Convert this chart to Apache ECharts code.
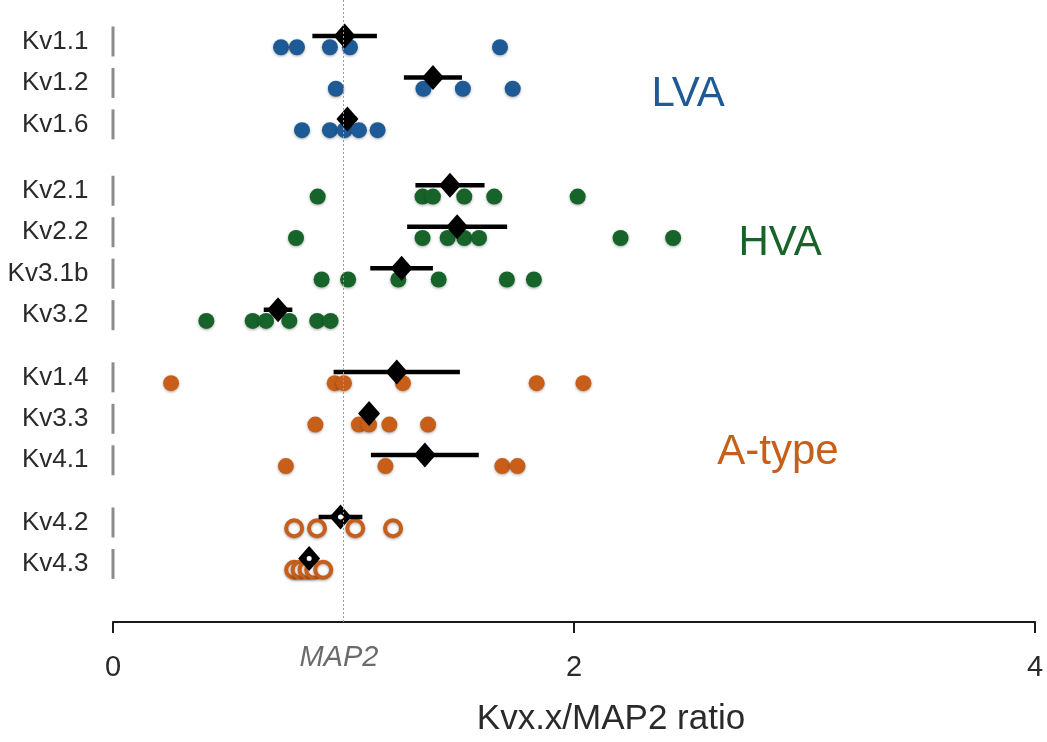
<!DOCTYPE html>
<html>
<head>
<meta charset="utf-8">
<script src="https://cdn.jsdelivr.net/npm/echarts@6/dist/echarts.min.js"></script>
<style>
  html, body { margin: 0; padding: 0; background: #fff; }
  #chart { width: 1047px; height: 742px; }
</style>
</head>
<body>
<div id="chart"></div>
<script>
// Kv channel subunits, top to bottom
const genes = ['Kv1.1', 'Kv1.2', 'Kv1.6', 'Kv2.1', 'Kv2.2', 'Kv3.1b', 'Kv3.2',
               'Kv1.4', 'Kv3.3', 'Kv4.1', 'Kv4.2', 'Kv4.3'];
const families = ['LVA', 'LVA', 'LVA', 'HVA', 'HVA', 'HVA', 'HVA',
                  'A-type', 'A-type', 'A-type', 'A-type', 'A-type'];
const familyNames = ['LVA', 'HVA', 'A-type'];

// individual Kvx.x/MAP2 ratios per subunit
const kv11 = [0.729, 0.798, 0.941, 1.028, 1.679];
const kv12 = [0.967, 1.347, 1.518, 1.734];
const kv16 = [0.820, 0.941, 1.005, 1.067, 1.148];
const kv21 = [0.888, 1.343, 1.388, 1.524, 1.654, 2.016];
const kv22 = [0.794, 1.343, 1.452, 1.524, 1.588, 2.202, 2.430];
const kv31b = [0.905, 1.020, 1.238, 1.413, 1.709, 1.826];
const kv32 = [0.405, 0.606, 0.664, 0.765, 0.886, 0.944];
const kv14 = [0.252, 0.962, 1.002, 1.258, 1.838, 2.041];
const kv33 = [0.878, 1.067, 1.111, 1.199, 1.367];
const kv41 = [0.750, 1.182, 1.689, 1.755];
const kv42 = [0.786, 0.885, 1.051, 1.215];
const kv43 = [0.786, 0.814, 0.844, 0.873, 0.912];
const ratios = [kv11, kv12, kv16, kv21, kv22, kv31b, kv32, kv14, kv33, kv41, kv42, kv43];

// mean ± SEM per subunit
const means = [1.005, 1.388, 1.017, 1.462, 1.493, 1.252, 0.716, 1.231, 1.111, 1.353, 0.987, 0.851];
const sems  = [0.140, 0.126, 0.040, 0.150, 0.217, 0.136, 0.062, 0.274, 0.040, 0.234, 0.095, 0.030];

// x axis
const xTicks = [0, 2, 4];
const xTitle = 'Kvx.x/MAP2 ratio';
const refValue = 1;
const refLabel = 'MAP2';

// ---- layout ----
const rowPos = [0, 1, 2, 3.6, 4.6, 5.6, 6.6, 8.1, 9.1, 10.1, 11.6, 12.6];
const dotShift = 0.14;
const meanShift = -0.13;
const hollowGenes = ['Kv4.2', 'Kv4.3'];
const familyColor = { 'LVA': '#1d5a96', 'HVA': '#17642a', 'A-type': '#c75f1a' };
const familyLabelAt = { 'LVA': [2.495, 1.28], 'HVA': [2.894, 4.88], 'A-type': [2.885, 9.92] };
const FONT = 'Liberation Sans, Arial, sans-serif';

const chart = echarts.init(document.getElementById('chart'), null, { renderer: 'canvas' });

// individual points, one series per family
const dotSeries = familyNames.map(function (fam) {
  const data = [];
  genes.forEach(function (g, i) {
    if (families[i] !== fam) return;
    const hollow = hollowGenes.indexOf(g) >= 0;
    ratios[i].forEach(function (v) {
      data.push({
        value: [v, rowPos[i] + dotShift],
        itemStyle: hollow
          ? { color: '#ffffff', borderColor: familyColor[fam], borderWidth: 4 }
          : { color: familyColor[fam] }
      });
    });
  });
  return {
    type: 'scatter',
    name: fam,
    clip: false,
    symbol: 'circle',
    symbolSize: 16,
    z: 2,
    itemStyle: {
      opacity: 1,
      color: familyColor[fam],
      shadowBlur: 3,
      shadowColor: 'rgba(0,0,0,0.35)',
      shadowOffsetY: 1
    },
    data: data,
    silent: true
  };
});

// SEM bars
const errorSeries = {
  type: 'custom',
  z: 3,
  silent: true,
  data: genes.map(function (g, i) { return [means[i] - sems[i], means[i] + sems[i], rowPos[i] + meanShift]; }),
  renderItem: function (params, api) {
    const a = api.coord([api.value(0), api.value(2)]);
    const b = api.coord([api.value(1), api.value(2)]);
    return {
      type: 'line',
      shape: { x1: a[0], y1: a[1], x2: b[0], y2: b[1] },
      style: { stroke: '#000', lineWidth: 4.5 }
    };
  },
  encode: { x: [0, 1], y: 2 }
};

// mean diamonds
const meanSeries = {
  type: 'scatter',
  z: 4,
  clip: false,
  silent: true,
  symbol: 'diamond',
  symbolSize: [22, 25],
  itemStyle: { color: '#000', opacity: 1 },
  data: genes.map(function (g, i) { return [means[i], rowPos[i] + meanShift]; })
};

// white centre on the means of the hollow-marker subunits
const meanDotSeries = {
  type: 'scatter',
  z: 5,
  clip: false,
  silent: true,
  symbol: 'circle',
  symbolSize: 5,
  itemStyle: { color: '#fff', opacity: 1 },
  data: genes.map(function (g, i) { return hollowGenes.indexOf(g) >= 0 ? [means[i], rowPos[i] + meanShift] : null; })
    .filter(function (d) { return d; })
};

// row labels with a grey bar at the axis origin
const rowLabelSeries = {
  type: 'scatter',
  z: 1,
  clip: false,
  silent: true,
  symbol: 'rect',
  symbolSize: [3, 30],
  itemStyle: { color: '#8c8c8c', opacity: 1 },
  label: {
    show: true,
    position: 'left',
    distance: 23,
    formatter: function (p) { return p.name; },
    fontFamily: FONT,
    fontSize: 26,
    color: '#2a2a2a'
  },
  data: genes.map(function (g, i) { return { name: g, value: [0, rowPos[i]] }; })
};

// family names
const familyLabelSeries = {
  type: 'scatter',
  z: 1,
  clip: false,
  silent: true,
  symbolSize: 0,
  itemStyle: { opacity: 1 },
  label: {
    show: true,
    position: 'inside',
    formatter: function (p) { return p.name; },
    fontFamily: FONT,
    fontSize: 42
  },
  data: familyNames.map(function (f) {
    return {
      name: f,
      value: familyLabelAt[f],
      label: { color: familyColor[f] }
    };
  })
};

// reference line at MAP2 = 1 with its caption under the axis
const refSeries = {
  type: 'scatter',
  z: 1,
  clip: false,
  silent: true,
  symbolSize: 0,
  itemStyle: { opacity: 1 },
  label: {
    show: true,
    position: 'inside',
    formatter: refLabel,
    fontFamily: FONT,
    fontStyle: 'italic',
    fontSize: 29,
    color: '#6b6b6b'
  },
  data: [[refValue - 0.02, 14.86]],
  markLine: {
    silent: true,
    symbol: 'none',
    label: { show: false },
    lineStyle: { color: '#9a9a9a', type: [2, 2], width: 1 },
    data: [[{ coord: [refValue, -1] }, { coord: [refValue, 14] }]]
  }
};

chart.setOption({
  backgroundColor: '#ffffff',
  animation: false,
  grid: { left: 113, right: 12, top: 0, bottom: 117, containLabel: false },
  xAxis: {
    type: 'value',
    min: xTicks[0],
    max: xTicks[xTicks.length - 1],
    interval: xTicks[1] - xTicks[0],
    name: xTitle,
    nameLocation: 'middle',
    nameGap: 80,
    nameTextStyle: { fontFamily: FONT, fontSize: 35, color: '#2a2a2a', padding: [0, 0, 0, 74] },
    axisLine: { show: true, onZero: false, lineStyle: { color: '#1a1a1a', width: 2 } },
    axisTick: { show: true, length: 11, lineStyle: { color: '#1a1a1a', width: 2 } },
    axisLabel: { fontFamily: FONT, fontSize: 29, color: '#2a2a2a', margin: 31 },
    splitLine: { show: false }
  },
  yAxis: {
    type: 'value',
    inverse: true,
    min: -1,
    max: 14,
    show: false
  },
  series: [refSeries, rowLabelSeries, familyLabelSeries].concat(dotSeries, [errorSeries, meanSeries, meanDotSeries])
});
</script>
</body>
</html>
